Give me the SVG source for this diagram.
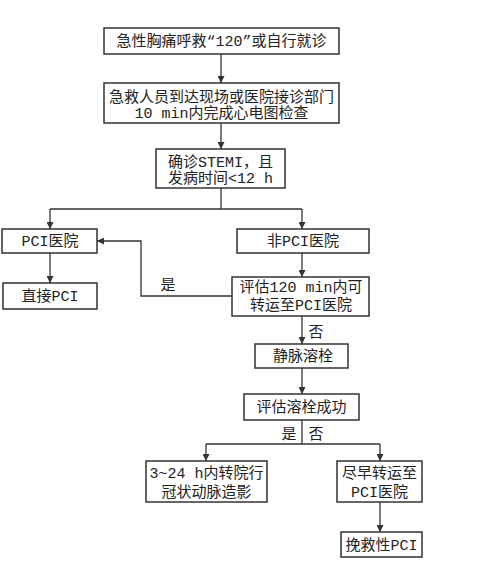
<svg xmlns="http://www.w3.org/2000/svg" width="479" height="572" viewBox="0 0 479 572">
<style>
.box{fill:#fff;stroke:#333;stroke-width:1.5}
.t{font-family:"Liberation Mono","Noto Sans CJK SC",monospace;font-size:15px;fill:#222;text-anchor:middle}
.c{fill:none;stroke:#333;stroke-width:1.3}
</style>
<defs>
<marker id="ah" viewBox="0 0 10 10" refX="10" refY="5" markerWidth="7" markerHeight="7" markerUnits="userSpaceOnUse" orient="auto">
<path d="M0,0 L10,5 L0,10 Z" fill="#333"/>
</marker>
</defs>
<rect width="479" height="572" fill="#fff"/>
<g id="connectors">
<path class="c" d="M221,54 V83" marker-end="url(#ah)"/>
<path class="c" d="M221,123 V149" marker-end="url(#ah)"/>
<path class="c" d="M221,188 V209"/>
<path class="c" d="M50,209 H302"/>
<path class="c" d="M50,209 V229" marker-end="url(#ah)"/>
<path class="c" d="M302,209 V229" marker-end="url(#ah)"/>
<path class="c" d="M50,253 V283" marker-end="url(#ah)"/>
<path class="c" d="M302,253 V277" marker-end="url(#ah)"/>
<path class="c" d="M232,296 H141 V241 H97" marker-end="url(#ah)"/>
<path class="c" d="M302,316 V344" marker-end="url(#ah)"/>
<path class="c" d="M302,368 V394" marker-end="url(#ah)"/>
<path class="c" d="M302,420 V444"/>
<path class="c" d="M206,444 H380"/>
<path class="c" d="M206,444 V461" marker-end="url(#ah)"/>
<path class="c" d="M380,444 V461" marker-end="url(#ah)"/>
<path class="c" d="M380,502 V532" marker-end="url(#ah)"/>
<text class="t" x="168" y="290">是</text>
<text class="t" x="316" y="337">否</text>
<text class="t" x="289" y="439">是</text>
<text class="t" x="316" y="439">否</text>
</g>
<g id="n1"><rect class="box" x="104" y="28" width="235" height="26"/><text class="t" x="221.5" y="46">急性胸痛呼救“120”或自行就诊</text></g>
<g id="n2"><rect class="box" x="104" y="83" width="235" height="40"/><text class="t" x="221.5" y="102">急救人员到达现场或医院接诊部门</text><text class="t" x="221.5" y="118">10 min内完成心电图检查</text></g>
<g id="n3"><rect class="box" x="156" y="149" width="129" height="39"/><text class="t" x="220.5" y="167">确诊STEMI，且</text><text class="t" x="220.5" y="183">发病时间&lt;12 h</text></g>
<g id="n4"><rect class="box" x="2" y="229" width="95" height="24"/><text class="t" x="50" y="246">PCI医院</text></g>
<g id="n5"><rect class="box" x="237" y="229" width="132" height="24"/><text class="t" x="303" y="246">非PCI医院</text></g>
<g id="n6"><rect class="box" x="3" y="283" width="94" height="26"/><text class="t" x="50" y="301">直接PCI</text></g>
<g id="n7"><rect class="box" x="232" y="277" width="137" height="39"/><text class="t" x="301" y="292">评估120 min内可</text><text class="t" x="301" y="310">转运至PCI医院</text></g>
<g id="n8"><rect class="box" x="255" y="344" width="93" height="24"/><text class="t" x="303" y="361">静脉溶栓</text></g>
<g id="n9"><rect class="box" x="244" y="394" width="115" height="26"/><text class="t" x="301.5" y="412">评估溶栓成功</text></g>
<g id="n10"><rect class="box" x="146" y="461" width="121" height="41"/><text class="t" x="206.5" y="478">3~24 h内转院行</text><text class="t" x="206.5" y="497">冠状动脉造影</text></g>
<g id="n11"><rect class="box" x="337" y="461" width="85" height="41"/><text class="t" x="379.5" y="478">尽早转运至</text><text class="t" x="379.5" y="497">PCI医院</text></g>
<g id="n12"><rect class="box" x="341" y="532" width="81" height="25"/><text class="t" x="381.5" y="550">挽救性PCI</text></g>
</svg>
